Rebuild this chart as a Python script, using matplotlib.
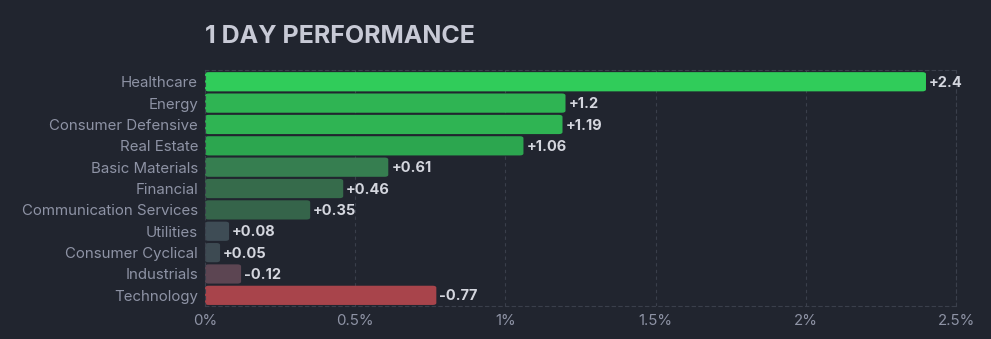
import matplotlib.pyplot as plt
from matplotlib.patches import FancyBboxPatch

sectors = ["Healthcare", "Energy", "Consumer Defensive", "Real Estate",
           "Basic Materials", "Financial", "Communication Services",
           "Utilities", "Consumer Cyclical", "Industrials", "Technology"]
changes = [2.4, 1.2, 1.19, 1.06, 0.61, 0.46, 0.35, 0.08, 0.05, -0.12, -0.77]
labels = ["+2.4", "+1.2", "+1.19", "+1.06", "+0.61", "+0.46", "+0.35",
          "+0.08", "+0.05", "-0.12", "-0.77"]
colors = ["#30cc5a", "#2fb453", "#2fb453", "#2ca64f", "#367e50", "#366b4b",
          "#35644a", "#3e4c55", "#3d4a52", "#5c4552", "#a8444b"]
xticks = [0, 0.5, 1, 1.5, 2, 2.5]
xticklabels = ["0%", "0.5%", "1%", "1.5%", "2%", "2.5%"]

bg = "#21252f"
plt.rcParams["font.family"] = ["Inter", "DejaVu Sans"]

fig = plt.figure(figsize=(9.91, 3.39), dpi=100, facecolor=bg)
ax = fig.add_axes([0.2069, 0.0973, 0.7578, 0.6962], facecolor=bg)

ypos = list(range(len(sectors)))
for y, v, c, lab in zip(ypos, changes, colors, labels):
    ax.add_patch(FancyBboxPatch((0, y - 0.45), abs(v), 0.9,
                                boxstyle="round,pad=0,rounding_size=0.012",
                                mutation_aspect=8, facecolor=c,
                                edgecolor="none", zorder=2))
    ax.text(abs(v) + 0.01, y + 0.05, lab, va="center", ha="left",
            color="#d4d6de", fontsize=10.5, fontweight="bold", zorder=3)

ax.set_xlim(0, 2.5)
ax.set_ylim(len(sectors) - 0.5, -0.55)
ax.set_yticks(ypos)
ax.set_yticklabels(sectors)
ax.set_xticks(xticks)
ax.set_xticklabels(xticklabels)
ax.tick_params(length=0, colors="#8e93a5", labelsize=10.8)
ax.tick_params(axis="y", pad=5)
ax.tick_params(axis="x", pad=6)
ax.grid(axis="x", color="#3a3f4b", linestyle=(0, (3, 3)), linewidth=0.8, zorder=0)
for s in ["top", "bottom", "right", "left"]:
    ax.spines[s].set_color("#3a3f4b")
    ax.spines[s].set_linestyle((0, (3, 3)))
    ax.spines[s].set_linewidth(0.8)

fig.text(0.2069, 0.872, "1 DAY PERFORMANCE", color="#c8cad6", fontsize=18,
         fontweight="bold", ha="left", va="baseline")

fig.savefig("out.png", dpi=100, facecolor=bg)
